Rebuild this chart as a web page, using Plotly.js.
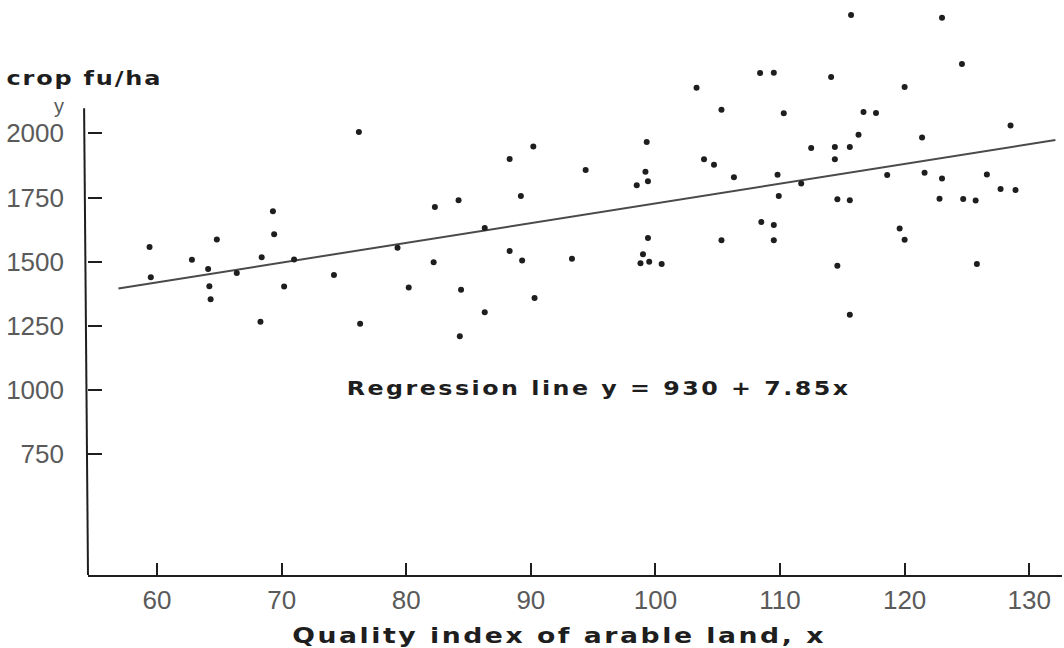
<!DOCTYPE html>
<html>
<head>
<meta charset="utf-8">
<script src="https://cdn.plot.ly/plotly-3.0.1.min.js"></script>
<style>
html,body{margin:0;padding:0;background:#fff;}
#chart{width:1064px;height:648px;}
</style>
</head>
<body>
<div id="chart"></div>
<script>
// Quality index of arable land (x) and crop yield in fu/ha (y)
const qualityIndex = [
  59.4, 59.5, 62.8, 64.8, 64.1, 64.2, 64.3, 66.4, 68.4, 69.3,
  69.4, 71.0, 70.2, 68.3, 74.2, 76.3, 76.2, 79.3, 80.2, 82.3,
  84.2, 82.2, 84.4, 84.3, 86.3, 86.3, 89.2, 88.3, 89.3, 90.3,
  93.3, 90.2, 88.3, 94.4, 99.3, 99.2, 99.4, 98.5, 99.4, 99.0,
  98.8, 99.5, 100.5, 103.3, 103.9, 104.7, 105.3, 106.3, 105.3, 108.4,
  109.5, 110.3, 109.8, 109.9, 111.7, 108.5, 109.5, 109.5, 112.5, 114.1,
  114.4, 115.6, 114.4, 114.6, 115.6, 114.6, 115.6, 115.7, 116.3, 116.7,
  117.7, 118.6, 119.6, 120.0, 120.0, 121.4, 121.6, 123.0, 122.8, 123.0,
  124.6, 124.7, 125.7, 125.8, 126.6, 127.7, 128.9, 128.5
];
const cropYield = [
  1557, 1440, 1508, 1587, 1472, 1405, 1354, 1456, 1518, 1697,
  1607, 1509, 1404, 1266, 1448, 1259, 2005, 1555, 1400, 1713,
  1740, 1498, 1391, 1210, 1631, 1303, 1756, 1542, 1505, 1359,
  1512, 1949, 1900, 1857, 1966, 1851, 1814, 1798, 1593, 1529,
  1494, 1500, 1491, 2178, 1899, 1878, 2092, 1829, 1584, 2235,
  2236, 2078, 1839, 1756, 1805, 1655, 1643, 1584, 1943, 2220,
  1947, 1947, 1899, 1743, 1740, 1484, 1294, 2461, 1995, 2083,
  2079, 1838, 1630, 1586, 2181, 1984, 1847, 1824, 1745, 2450,
  2270, 1744, 1739, 1491, 1840, 1783, 1779, 2031
];
// Regression line as drawn (end points)
const lineX = [56.9, 132.1];
const lineY = [1396, 1974];

const xTicks = [60, 70, 80, 90, 100, 110, 120, 130];
const yTicks = [750, 1000, 1250, 1500, 1750, 2000];

const yLabel = 'crop fu/ha';
const yLetter = 'y';
const xLabel = 'Quality index of arable land, x';
const regLabel = 'Regression line y = 930 + 7.85x';

const ink = '#1e1e1e';
const grey = '#5a5a5a';

const data = [
  {
    x: lineX, y: lineY, type: 'scatter', mode: 'lines',
    line: {color: '#4a4a4a', width: 2}, hoverinfo: 'skip', showlegend: false
  },
  {
    x: qualityIndex, y: cropYield, type: 'scatter', mode: 'markers',
    marker: {color: ink, size: 6}, showlegend: false
  }
];

const layout = {
  width: 1064, height: 648,
  margin: {l: 88, r: 2, t: 5, b: 73},
  paper_bgcolor: '#fff', plot_bgcolor: '#fff',
  showlegend: false,
  xaxis: {
    range: [54.46, 132.63],
    showgrid: false, zeroline: false,
    showline: true, linecolor: ink, linewidth: 2,
    ticks: 'inside', ticklen: 12, tickwidth: 2, tickcolor: ink,
    tickvals: xTicks, ticktext: xTicks.map(String),
    tickfont: {family: 'Liberation Sans, Arial, sans-serif', size: 26, color: grey},
    ticklabelstandoff: 1
  },
  yaxis: {
    range: [280, 2500],
    showgrid: false, zeroline: false, showline: false,
    ticks: 'inside', ticklen: 14, tickwidth: 2, tickcolor: ink,
    tickvals: yTicks, ticktext: yTicks.map(String),
    tickfont: {family: 'Liberation Sans, Arial, sans-serif', size: 26, color: grey},
    ticklabelstandoff: 23
  },
  shapes: [
    {type: 'line', xref: 'paper', yref: 'y', x0: 0, x1: -0.004, y0: 280, y1: 2098,
     line: {color: ink, width: 2}}
  ],
  annotations: [
    {text: yLabel, xref: 'paper', yref: 'y', x: -0.004, y: 2215,
     xanchor: 'center', yanchor: 'middle', showarrow: false,
     font: {family: 'DejaVu Sans, sans-serif', size: 20, color: ink, weight: 'bold'}},
    {text: yLetter, xref: 'paper', yref: 'y', x: -0.0298, y: 2108,
     xanchor: 'center', yanchor: 'middle', showarrow: false,
     font: {family: 'Liberation Sans, Arial, sans-serif', size: 20, color: grey}},
    {text: regLabel, xref: 'x', yref: 'y', x: 95.47, y: 1008,
     xanchor: 'center', yanchor: 'middle', showarrow: false,
     font: {family: 'DejaVu Sans, sans-serif', size: 19, color: ink, weight: 'bold'}},
    {text: xLabel, xref: 'paper', yref: 'paper', x: 0.4836, y: -0.107,
     xanchor: 'center', yanchor: 'middle', showarrow: false,
     font: {family: 'DejaVu Sans, sans-serif', size: 21, color: ink, weight: 'bold'}}
  ]
};

// widen the lettering to imitate the extended typeface of the original
const textStyle = {
  0: {spacing: '1.5px', scale: 1.2},
  2: {spacing: '2px', scale: 1.25},
  3: {spacing: '2px', scale: 1.27}
};
Plotly.newPlot('chart', data, layout, {displayModeBar: false, staticPlot: true}).then(function () {
  document.querySelectorAll('g.annotation').forEach(function (g) {
    const idx = g.getAttribute('data-index');
    const st = textStyle[idx];
    if (st) {
      const t = g.querySelector('text');
      if (t) {
        t.style.letterSpacing = st.spacing;
        t.style.transformBox = 'fill-box';
        t.style.transformOrigin = 'center';
        t.style.transform = 'scaleX(' + st.scale + ')';
      }
    }
  });
});
</script>
</body>
</html>
